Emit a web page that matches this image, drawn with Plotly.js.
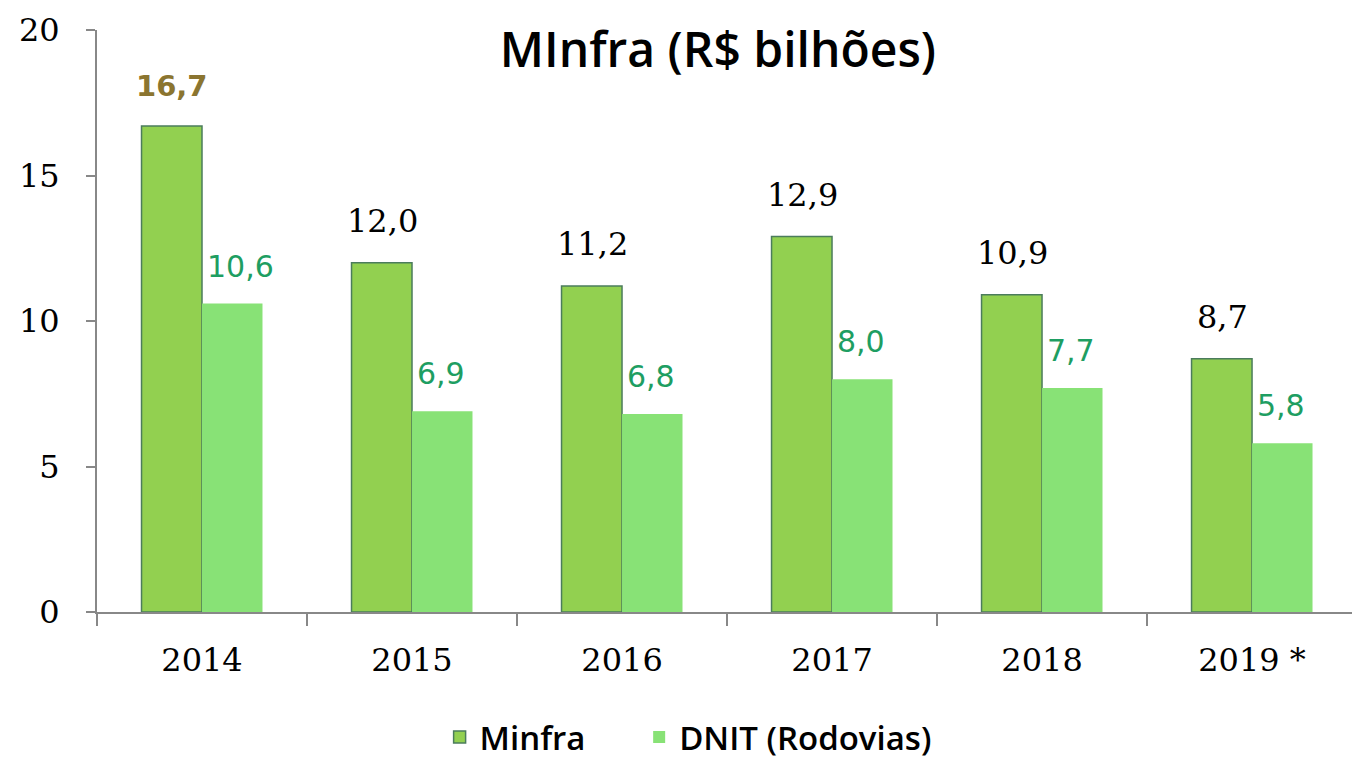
<!DOCTYPE html>
<html>
<head>
<meta charset="utf-8">
<script src="https://cdn.plot.ly/plotly-3.0.1.min.js"></script>
<style>html,body{margin:0;padding:0;background:#fff;}#chart{width:1352px;height:768px;}</style>
</head>
<body>
<div id="chart"></div>
<script>
const categories = ["2014", "2015", "2016", "2017", "2018", "2019 *"];
const minfraValues = [16.7, 12.0, 11.2, 12.9, 10.9, 8.7];
const dnitValues = [10.6, 6.9, 6.8, 8.0, 7.7, 5.8];
const minfraLabelColors = ["#8B7530", "#000000", "#000000", "#000000", "#000000", "#000000"];
const yTicks = [0, 5, 10, 15, 20];

function fmt(v) { return v.toFixed(1).replace('.', ','); }

const traces = [
  {
    type: 'bar', name: 'Minfra', x: categories, y: minfraValues,
    marker: {color: '#92D050', line: {color: '#4B7C5C', width: 1.5}},
    hoverinfo: 'none', legend: 'legend'
  },
  {
    type: 'bar', name: 'DNIT (Rodovias)', x: categories, y: dnitValues,
    marker: {color: '#88E276', line: {color: '#88E276', width: 0}},
    hoverinfo: 'none', legend: 'legend2'
  }
];

const annotations = [];
categories.forEach((c, i) => {
  const bold = i === 0;
  annotations.push({
    x: i, y: minfraValues[i], xref: 'x', yref: 'y',
    text: bold ? '<b>' + fmt(minfraValues[i]) + '</b>' : fmt(minfraValues[i]),
    showarrow: false, xanchor: 'center', yanchor: 'bottom',
    xshift: -30, yshift: 21,
    font: bold ? {family: 'DejaVu Sans', size: 29, color: minfraLabelColors[i]}
               : {family: 'DejaVu Serif', size: 32, color: minfraLabelColors[i]}
  });
  annotations.push({
    x: i, y: dnitValues[i], xref: 'x', yref: 'y',
    text: fmt(dnitValues[i]),
    showarrow: false, xanchor: 'left', yanchor: 'bottom',
    xshift: 3, yshift: 18,
    font: {family: 'DejaVu Sans', size: 30, color: '#1E9E62'}
  });
});

const legendFont = {family: 'Open Sans', size: 33, weight: 600, color: '#000000'};

const layout = {
  width: 1352, height: 768,
  paper_bgcolor: '#ffffff', plot_bgcolor: '#ffffff',
  margin: {l: 97, r: 0, t: 30, b: 156},
  barmode: 'group', bargap: 0.424, bargroupgap: 0,
  showlegend: true,
  title: {
    text: 'MInfra (R$ bilhões)',
    font: {family: 'Open Sans', size: 48, weight: 600, color: '#000000'},
    x: 0.531, xanchor: 'center', y: 0.935, yanchor: 'middle'
  },
  xaxis: {
    type: 'category', range: [-0.5, 5.476],
    showline: true, linecolor: '#888888', linewidth: 2,
    ticks: 'outside', tickson: 'boundaries', ticklen: 12, tickcolor: '#888888', tickwidth: 2,
    ticklabelstandoff: 19,
    tickfont: {family: 'DejaVu Serif', size: 32, color: '#000000'},
    showgrid: false, zeroline: false, fixedrange: true
  },
  yaxis: {
    range: [0, 20], tickvals: yTicks, ticktext: yTicks.map(String),
    showline: true, linecolor: '#888888', linewidth: 2,
    ticks: 'outside', ticklen: 9, tickcolor: '#888888', tickwidth: 2,
    ticklabelstandoff: 20,
    tickfont: {family: 'DejaVu Serif', size: 32, color: '#000000'},
    showgrid: false, zeroline: false, fixedrange: true
  },
  legend: {
    orientation: 'h', x: 0.273, xanchor: 'left', y: -0.215, yanchor: 'middle',
    font: legendFont, itemwidth: 30, bgcolor: 'rgba(0,0,0,0)'
  },
  legend2: {
    orientation: 'h', x: 0.432, xanchor: 'left', y: -0.215, yanchor: 'middle',
    font: legendFont, itemwidth: 30, bgcolor: 'rgba(0,0,0,0)'
  },
  annotations: annotations
};

Plotly.newPlot('chart', traces, layout, {staticPlot: true, displayModeBar: false});
</script>
</body>
</html>
